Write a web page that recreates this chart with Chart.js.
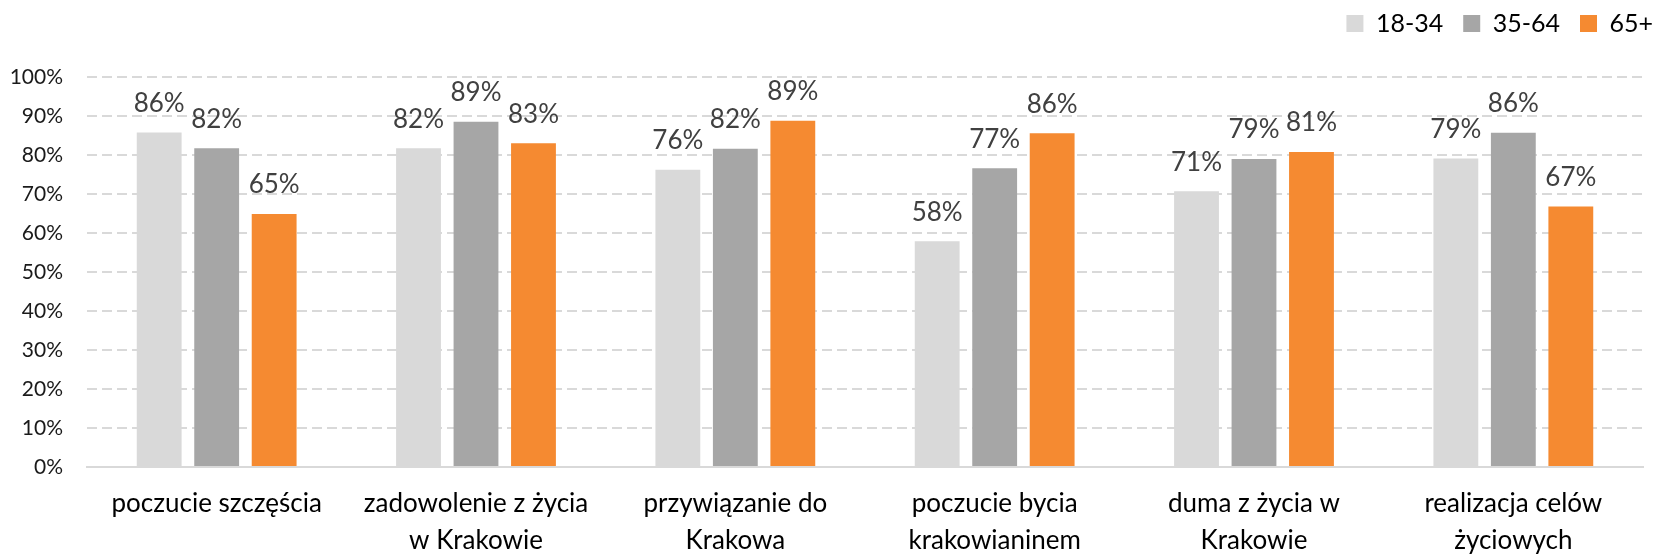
<!DOCTYPE html>
<html>
<head>
<meta charset="utf-8">
<script src="https://cdn.jsdelivr.net/npm/chart.js@4/dist/chart.umd.min.js"></script>
<style>
  html, body { margin: 0; padding: 0; background: #fff; }
  #wrap { width: 1654px; height: 554px; }
</style>
</head>
<body>
<div id="wrap"><canvas id="chart"></canvas></div>
<script>
const categories = [
    ['poczucie szczęścia'],
    ['zadowolenie z życia', 'w Krakowie'],
    ['przywiązanie do', 'Krakowa'],
    ['poczucie bycia', 'krakowianinem'],
    ['duma z życia w', 'Krakowie'],
    ['realizacja celów', 'życiowych'],
];

const seriesNames = ['18-34', '35-64', '65+'];

const age18to34 = [85.8, 81.7, 76.2, 57.9, 70.7, 79.1];
const age35to64 = [81.7, 88.5, 81.6, 76.6, 79.0, 85.7];
const age65plus = [64.9, 83.0, 88.8, 85.6, 80.8, 66.8];

const colors = ['#D9D9D9', '#A6A6A6', '#F58A31'];

const fontFamily = 'Lato, "Open Sans", sans-serif';

// value labels above each bar
const barLabels = {
    id: 'barLabels',
    afterDatasetsDraw(chart) {
        const ctx = chart.ctx;
        ctx.save();
        ctx.font = '26px ' + fontFamily;
        ctx.fillStyle = '#404040';
        ctx.textAlign = 'center';
        ctx.textBaseline = 'middle';
        chart.data.datasets.forEach((ds, i) => {
            chart.getDatasetMeta(i).data.forEach((bar, j) => {
                ctx.fillText(Math.round(ds.data[j]) + '%', bar.x, bar.y - 29);
            });
        });
        ctx.restore();
    }
};

// nudge the legend into the top right corner
const legendShift = {
    id: 'legendShift',
    afterLayout(chart) {
        const lg = chart.legend;
        lg.left += 30; lg.right += 30;
        lg.top -= 31; lg.bottom -= 31;
    }
};

new Chart(document.getElementById('chart'), {
    type: 'bar',
    data: {
        labels: categories,
        datasets: [
            { label: seriesNames[0], data: age18to34, backgroundColor: colors[0] },
            { label: seriesNames[1], data: age35to64, backgroundColor: colors[1] },
            { label: seriesNames[2], data: age65plus, backgroundColor: colors[2] },
        ]
    },
    options: {
        responsive: true,
        maintainAspectRatio: false,
        animation: false,
        datasets: {
            bar: {
                barPercentage: 0.78,
                categoryPercentage: 0.665,
            }
        },
        layout: {
            padding: { top: 22, right: 11, left: 0, bottom: 0 }
        },
        scales: {
            y: {
                min: 0,
                max: 100,
                ticks: {
                    stepSize: 10,
                    padding: 24,
                    color: '#1a1a1a',
                    font: { family: fontFamily, size: 21 },
                    callback: (v) => v + '%',
                },
                grid: {
                    color: '#D9D9D9',
                    lineWidth: 2,
                    drawTicks: false,
                },
                border: { display: false, dash: [10, 5] },
                afterFit(scale) { scale.width = 87; },
            },
            x: {
                ticks: {
                    padding: 18,
                    color: '#000',
                    font: { family: fontFamily, size: 26, lineHeight: 1.42 },
                    maxRotation: 0,
                },
                grid: { display: false, drawTicks: false },
                border: { color: '#D9D9D9', width: 2 },
                afterFit(scale) { scale.height = 87; },
            }
        },
        plugins: {
            legend: {
                position: 'top',
                align: 'end',
                labels: {
                    boxWidth: 17,
                    boxHeight: 17,
                    padding: 20,
                    color: '#000',
                    font: { family: fontFamily, size: 25 },
                }
            },
            tooltip: { enabled: false }
        }
    },
    plugins: [barLabels, legendShift]
});
</script>
</body>
</html>
